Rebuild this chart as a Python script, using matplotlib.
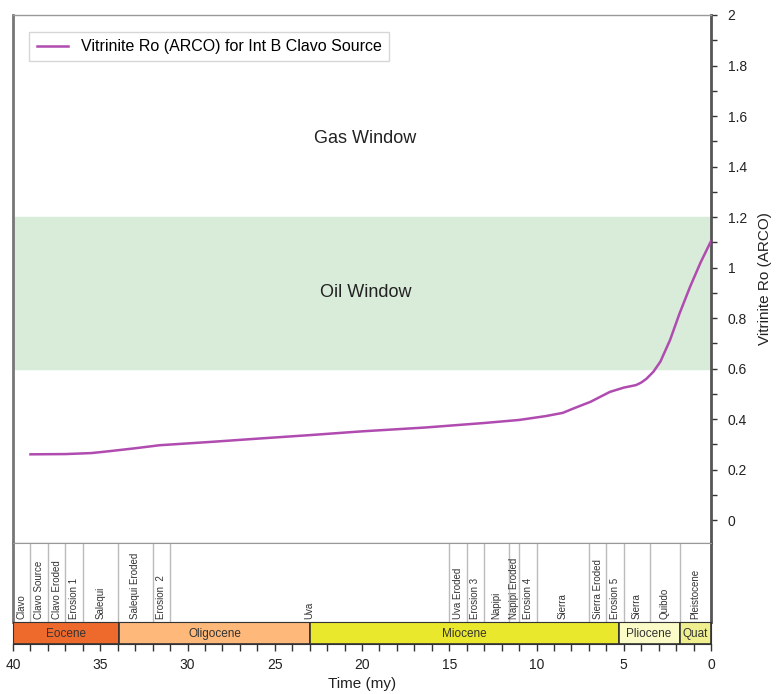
import matplotlib
matplotlib.use("Agg")
import matplotlib.pyplot as plt
from matplotlib.patches import Rectangle
from matplotlib.ticker import MultipleLocator
import numpy as np

plt.rcParams['font.family'] = ['Liberation Sans', 'DejaVu Sans']

# Vitrinite reflectance curve
time_my = [39.0, 37.0, 35.5, 34.4, 33.0, 31.6, 28.7, 26.0, 23.0, 20.0, 16.4, 13.0,
           11.0, 9.5, 8.5, 7.9, 6.9, 5.8, 5.0, 4.3, 4.0, 3.7, 3.3, 2.9, 2.35, 1.8, 1.2, 0.6, 0.0]
ro_values = [0.261, 0.262, 0.266, 0.274, 0.285, 0.297, 0.310, 0.323, 0.337, 0.352, 0.367, 0.385,
             0.397, 0.412, 0.425, 0.442, 0.469, 0.508, 0.525, 0.535, 0.545, 0.560, 0.588, 0.628,
             0.713, 0.819, 0.924, 1.020, 1.105]

# Formations (start, end in my)
formation_names = ["Clavo", "Clavo Source", "Clavo Eroded", "Erosion 1", "Salequi",
                   "Salequi Eroded", "Erosion  2", "Uva", "Uva Eroded", "Erosion 3",
                   "Napipi", "Napipi Eroded", "Erosion 4", "Sierra", "Sierra Eroded",
                   "Erosion 5", "Sierra", "Quibdo", "Pleistocene"]
formation_bounds = [40, 39, 38, 37, 36, 34, 32, 31, 15, 14, 13, 11.6, 11, 10, 7, 6, 5, 3.5, 1.8, 0]

# Epochs
epoch_names = ["Eocene", "Oligocene", "Miocene", "Pliocene", "Quat"]
epoch_bounds = [40, 33.9, 23.0, 5.3, 1.8, 0]
epoch_colors = ["#EE6A2C", "#FDB87A", "#EAE82C", "#FBFBC8", "#EFEF90"]

oil_window = (0.6, 1.2)

W, H = 778, 694
fig = plt.figure(figsize=(W / 100, H / 100), dpi=100)

left = 13 / W
width = 698 / W
ax = fig.add_axes([left, (H - 543) / H, width, (543 - 15) / H])
axf = fig.add_axes([left, (H - 622) / H, width, (622 - 543) / H])
axe = fig.add_axes([left, (H - 644) / H, width, (644 - 622) / H])

# Main chart
ax.set_xlim(40, 0)
ax.set_ylim(-0.09, 2.0)
ax.axhspan(oil_window[0], oil_window[1], color="#D9EBD9", zorder=0)
ax.plot(time_my, ro_values, color="#B04BB0", lw=1.8, zorder=3,
        label="Vitrinite Ro (ARCO) for Int B Clavo Source")
ax.text(19.8, 1.51, "Gas Window", ha="center", va="center", fontsize=13, color="#222222")
ax.text(19.8, 0.90, "Oil Window", ha="center", va="center", fontsize=13, color="#222222")

ax.yaxis.tick_right()
ax.yaxis.set_label_position("right")
ax.yaxis.set_minor_locator(MultipleLocator(0.1))
ax.set_yticks([0, 0.2, 0.4, 0.6, 0.8, 1.0, 1.2, 1.4, 1.6, 1.8, 2.0])
ax.set_yticklabels(["0", "0.2", "0.4", "0.6", "0.8", "1", "1.2", "1.4", "1.6", "1.8", "2"])
ax.tick_params(axis="y", which="major", length=4, width=1, labelsize=10, pad=8, colors="#333333", labelcolor="#222222")
ax.tick_params(axis="y", which="minor", length=4, width=1, colors="#333333")
ax.set_ylabel("Vitrinite Ro (ARCO)", fontsize=11, labelpad=8, color="#222222")
ax.set_xticks([])
for s in ["top", "bottom"]:
    ax.spines[s].set_color("#999999")
    ax.spines[s].set_linewidth(1.0)
ax.spines["left"].set_color("#777777")
ax.spines["left"].set_linewidth(2.0)
ax.spines["right"].set_color("#555555")
ax.spines["right"].set_linewidth(2.0)

leg = ax.legend(loc="upper left", bbox_to_anchor=(0.012, 0.983), fontsize=11.5,
                frameon=True, fancybox=False, handlelength=2.0, borderpad=0.45)
leg.get_frame().set_edgecolor("#CCCCCC")
leg.get_frame().set_linewidth(1.0)

# Formation panel
axf.set_xlim(40, 0)
axf.set_ylim(0, 1)
axf.set_xticks([])
axf.set_yticks([])
for b in formation_bounds[1:-1]:
    axf.axvline(b, color="#BBBBBB", lw=1.0)
for name, a, b in zip(formation_names, formation_bounds[:-1], formation_bounds[1:]):
    axf.text((a + b) / 2, 0.04, name, rotation=90, ha="center", va="bottom",
             fontsize=7, color="#333333")
for s in ["top", "bottom"]:
    axf.spines[s].set_color("#999999")
axf.spines["left"].set_color("#777777")
axf.spines["left"].set_linewidth(2.0)
axf.spines["right"].set_color("#555555")
axf.spines["right"].set_linewidth(2.0)

# Epoch bar
axe.set_xlim(40, 0)
axe.set_ylim(0, 1)
for name, a, b, c in zip(epoch_names, epoch_bounds[:-1], epoch_bounds[1:], epoch_colors):
    axe.add_patch(Rectangle((b, 0), a - b, 1, facecolor=c, edgecolor="#333333", lw=1.2))
    axe.text((a + b) / 2, 0.45, name, ha="center", va="center", fontsize=8.5, color="#333333")
axe.set_yticks([])
axe.xaxis.set_minor_locator(MultipleLocator(1))
axe.set_xticks([40, 35, 30, 25, 20, 15, 10, 5, 0])
axe.set_xticklabels(["40", "35", "30", "25", "20", "15", "10", "5", "0"])
axe.tick_params(axis="x", which="major", length=5, width=1, labelsize=10, pad=5, colors="#333333", labelcolor="#222222")
axe.tick_params(axis="x", which="minor", length=5, width=1, colors="#333333")
axe.set_xlabel("Time (my)", fontsize=11, labelpad=4, color="#222222")
for s in axe.spines.values():
    s.set_color("#333333")

fig.savefig("out.png", dpi=100)
